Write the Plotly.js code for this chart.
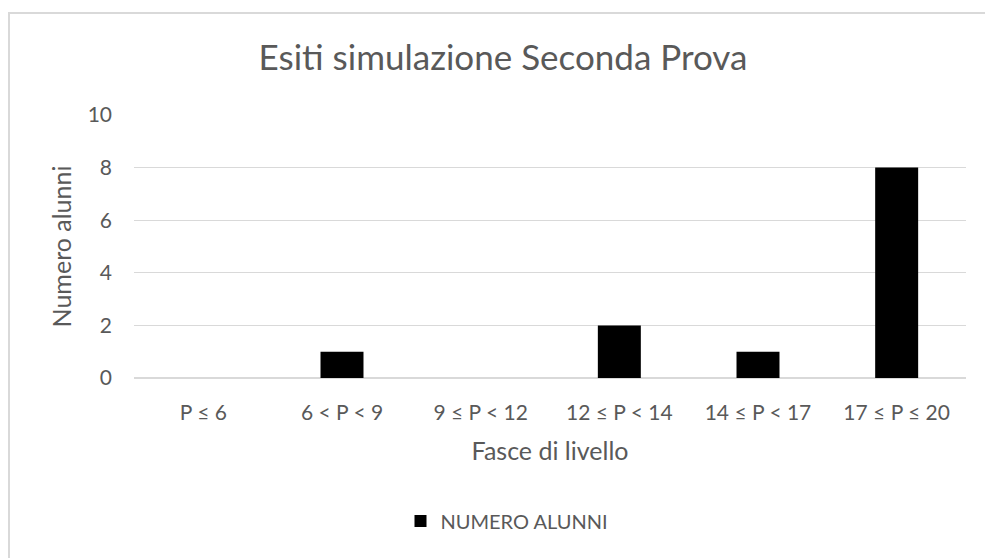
<!DOCTYPE html>
<html>
<head>
<meta charset="utf-8">
<script src="https://cdn.plot.ly/plotly-3.0.1.min.js"></script>
<style>
html,body{margin:0;padding:0;background:#fff;}
#chart{position:absolute;left:0;top:0;width:985px;height:558px;}
#frame{position:absolute;left:8px;top:12px;width:990px;height:560px;border-left:2px solid #d9d9d9;border-top:2px solid #d9d9d9;pointer-events:none;}
</style>
</head>
<body>
<div id="chart"></div>
<div id="frame"></div>
<script>
const categories = ["P ≤ 6", "6 < P < 9", "9 ≤ P < 12", "12 ≤ P < 14", "14 ≤ P < 17", "17 ≤ P ≤ 20"];
const numeroAlunni = [0, 1, 0, 2, 1, 8];
const seriesName = "NUMERO ALUNNI";
const yTicks = [0, 2, 4, 6, 8, 10];

const FONT = "Lato, 'Open Sans', sans-serif";
const GREY = "#595959";

const trace = {
  type: "bar",
  x: categories,
  y: numeroAlunni,
  name: seriesName,
  marker: {color: "#000000", line: {color: "#404040", width: 0}},
  showlegend: true
};

const layout = {
  width: 985,
  height: 558,
  margin: {l: 134, r: 19, t: 115, b: 179.5, pad: 0},
  paper_bgcolor: "#ffffff",
  plot_bgcolor: "#ffffff",
  font: {family: FONT, color: GREY, size: 21},
  title: {
    text: "Esiti simulazione Seconda Prova",
    font: {family: FONT, size: 35, color: GREY},
    xref: "container", x: 503/985, xanchor: "center",
    yref: "container", y: 1 - 58/558, yanchor: "middle"
  },
  bargap: 0.69,
  xaxis: {
    type: "category",
    showgrid: false,
    zeroline: false,
    showline: false,
    ticks: "",
    ticklabelstandoff: 20,
    tickfont: {family: FONT, size: 21, color: GREY},
    title: {text: "Fasce di livello", font: {family: FONT, size: 25, color: GREY}, standoff: 19}
  },
  yaxis: {
    range: [0, 10],
    tickvals: yTicks,
    showgrid: true,
    gridcolor: "#d9d9d9",
    gridwidth: 1.3,
    zeroline: true,
    zerolinecolor: "#d9d9d9",
    zerolinewidth: 1.5,
    showline: false,
    ticks: "",
    ticklabelstandoff: 21,
    tickfont: {family: FONT, size: 21, color: GREY},
    title: {text: "Numero alunni", font: {family: FONT, size: 25, color: GREY}, standoff: 8}
  },
  legend: {
    orientation: "h",
    xref: "container", yref: "container",
    x: 507/985, xanchor: "center",
    y: 1 - 521/558, yanchor: "middle",
    font: {family: FONT, size: 20, color: GREY},
    itemwidth: 30,
    bgcolor: "rgba(0,0,0,0)"
  }
};

Plotly.newPlot("chart", [trace], layout, {displayModeBar: false, staticPlot: true});
</script>
</body>
</html>
